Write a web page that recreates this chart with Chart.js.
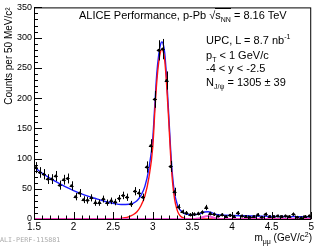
<!DOCTYPE html>
<html>
<head>
<meta charset="utf-8">
<script src="https://cdn.jsdelivr.net/npm/chart.js@4.4.1/dist/chart.umd.min.js"></script>
<style>
  html, body { margin: 0; padding: 0; background: #fff; }
  #wrap { position: relative; width: 316px; height: 246px; font-family: 'Liberation Sans', Arial, sans-serif; color: #000; }
  #wrap canvas { position: absolute; left: 0; top: 0; }
  .lbl { position: absolute; font-size: 11px; line-height: 12px; white-space: nowrap; }
  .lbl sub, .lbl sup { font-size: 7px; line-height: 0; }
  .ov { border-top: 1px solid #000; padding-top: 0; }
  #xtitle { font-size: 10px; right: 4px; top: 232px; }
  #tag { position: absolute; left: 0; top: 236px; font-family: 'DejaVu Sans Mono', monospace; font-size: 6.7px; color: #aaa; }
</style>
</head>
<body>
<div id="wrap">
  <canvas id="c" width="316" height="246"></canvas>
  <div class="lbl" style="left:79px;top:9px">ALICE Performance, p-Pb <span>&radic;<span class="ov">s<sub>NN</sub></span></span> = 8.16 TeV</div>
  <div class="lbl" style="left:206px;top:34px">UPC, L = 8.7 nb<sup>-1</sup></div>
  <div class="lbl" style="left:206px;top:49px">p<sub>T</sub> &lt; 1 GeV/c</div>
  <div class="lbl" style="left:206px;top:62px">-4 &lt; y &lt; -2.5</div>
  <div class="lbl" style="left:206px;top:76px">N<sub>J/&psi;</sub> = 1305 &plusmn; 39</div>
  <div class="lbl" id="xtitle">m<sub>&mu;&mu;</sub> (GeV/c<sup>2</sup>)</div>
  <div id="tag">ALI-PERF-115881</div>
</div>
<script>
// ── data (50 MeV bins) ────────────────────────────────────
const binCenters = [
  1.525, 1.575, 1.625, 1.675, 1.725, 1.775, 1.825, 1.875, 1.925, 1.975,
  2.025, 2.075, 2.125, 2.175, 2.225, 2.275, 2.325, 2.375, 2.425, 2.475,
  2.525, 2.575, 2.625, 2.675, 2.725, 2.775, 2.825, 2.875, 2.925, 2.975,
  3.025, 3.075, 3.125, 3.175, 3.225, 3.275, 3.325, 3.375, 3.425, 3.475,
  3.525, 3.575, 3.625, 3.675, 3.725, 3.775, 3.825, 3.875, 3.925, 3.975,
  4.025, 4.075, 4.125, 4.175, 4.225, 4.275, 4.325, 4.375, 4.425, 4.475,
  4.525, 4.575, 4.625, 4.675, 4.725, 4.775, 4.825, 4.875, 4.925, 4.975
];
const counts = [
  85, 77, 74, 66, 66, 71, 56, 65, 67, 55,
  37, 43, 32, 31, 35, 27, 27, 33, 27, 30,
  28, 34, 39, 36, 25, 46, 43, 36, 86, 121,
  198, 279, 281, 229, 87, 45, 20, 12, 10, 7,
  8, 9, 11, 19, 9, 8, 5, 7, 4, 6,
  4, 10, 5, 4, 3, 4, 7, 3, 8, 4,
  4, 5, 4, 5, 4, 8, 3, 2, 4, 5
];
const countErr = [
  9.2, 8.8, 8.6, 8.1, 8.1, 8.4, 7.5, 8.1, 8.2, 7.4,
  6.1, 6.6, 5.7, 5.6, 5.9, 5.2, 5.2, 5.7, 5.2, 5.5,
  5.3, 5.8, 6.2, 6.0, 5.0, 6.8, 6.6, 6.0, 9.3, 11.0,
  14.1, 16.7, 16.8, 15.1, 9.3, 6.7, 4.5, 3.5, 3.2, 2.6,
  2.8, 3.0, 3.3, 4.4, 3.0, 2.8, 2.2, 2.6, 2.0, 2.4,
  2.0, 3.2, 2.2, 2.0, 1.7, 2.0, 2.6, 1.7, 2.8, 2.0,
  2.0, 2.2, 2.0, 2.2, 2.0, 2.8, 1.7, 1.4, 2.0, 2.2
];

// total fit (blue)
const totalMass = [1.5, 1.6, 1.7, 1.8, 1.9, 2.0, 2.1, 2.2, 2.3, 2.4, 2.5, 2.6, 2.7, 2.75, 2.8, 2.85, 2.9, 2.95,
  3.0, 3.025, 3.05, 3.075, 3.1, 3.115, 3.13, 3.15, 3.175, 3.2, 3.225, 3.25, 3.275, 3.3, 3.325, 3.35,
  3.4, 3.45, 3.5, 3.55, 3.6, 3.65, 3.7, 3.75, 3.8, 3.85, 3.9, 4.0, 4.25, 4.5, 4.75, 5.0];
const totalFit = [86, 76, 67.5, 60, 53, 47, 41.5, 37, 33, 29, 26, 24, 24.5, 26, 30, 39, 54, 83,
  134, 188, 240, 272, 290, 293, 290, 275, 232, 175, 115, 70, 42, 28, 19, 14,
  9, 7.5, 7, 7.5, 9, 11.5, 12, 10, 7.5, 6.5, 6.2, 5.8, 5, 4.4, 4, 3.6];

// J/psi signal (red)
const jpsiMass = [1.5, 2.4, 2.5, 2.55, 2.6, 2.65, 2.7, 2.75, 2.8, 2.85, 2.9, 2.95,
  3.0, 3.025, 3.05, 3.075, 3.1, 3.115, 3.13, 3.15, 3.175, 3.2, 3.225, 3.25, 3.275, 3.3, 3.325, 3.35,
  3.4, 3.45, 3.5, 5.0];
const jpsiFit = [0, 0, 0.2, 0.5, 1, 2, 4, 7, 12, 22, 38, 68,
  120, 177, 227, 260, 278, 281, 278, 263, 221, 165, 105, 60, 33, 18, 9, 4.5,
  1, 0.2, 0, 0];

// psi(2S) (magenta)
const psi2sMass = [1.5, 3.5, 3.55, 3.6, 3.65, 3.69, 3.73, 3.78, 3.83, 3.88, 5.0];
const psi2sFit = [0, 0, 0.3, 1.5, 3.8, 5, 3.8, 1.5, 0.3, 0, 0];

const xTicks = [1.5, 2, 2.5, 3, 3.5, 4, 4.5, 5];
const yTicks = [0, 50, 100, 150, 200, 250, 300, 350];

const pairs = (xs, ys) => xs.map((v, i) => ({ x: v, y: ys[i] }));

// error bars on the data points
const errorBars = {
  id: 'errorBars',
  afterDatasetsDraw(chart) {
    const { ctx, scales: { x, y } } = chart;
    ctx.save();
    ctx.strokeStyle = '#000';
    ctx.lineWidth = 1;
    ctx.beginPath();
    binCenters.forEach((m, i) => {
      const px = Math.round(x.getPixelForValue(m)) + 0.5;
      const py = Math.round(y.getPixelForValue(counts[i])) + 0.5;
      ctx.moveTo(px, y.getPixelForValue(counts[i] + countErr[i]));
      ctx.lineTo(px, y.getPixelForValue(Math.max(0, counts[i] - countErr[i])));
      ctx.moveTo(x.getPixelForValue(m - 0.025), py);
      ctx.lineTo(x.getPixelForValue(m + 0.025), py);
    });
    ctx.stroke();
    ctx.restore();
  }
};

// ROOT-like frame with inside ticks
const rootFrame = {
  id: 'rootFrame',
  afterDraw(chart) {
    const { ctx, chartArea: a, scales: { x, y } } = chart;
    ctx.save();
    ctx.strokeStyle = '#000';
    ctx.lineWidth = 1;
    ctx.strokeRect(a.left + 0.5, a.top + 0.5, a.right - a.left - 1, a.bottom - a.top);
    ctx.beginPath();
    for (let v = 0; v <= 350; v += 10) {
      const py = Math.round(y.getPixelForValue(v)) + 0.5;
      ctx.moveTo(a.left, py);
      ctx.lineTo(a.left + (v % 50 === 0 ? 8 : 4), py);
    }
    for (let k = 15; k <= 50; k++) {
      const px = Math.round(x.getPixelForValue(k / 10)) + 0.5;
      ctx.moveTo(px, a.bottom);
      ctx.lineTo(px, a.bottom - (k % 5 === 0 ? 7 : 3.5));
    }
    ctx.stroke();
    ctx.restore();
  }
};

const tickFont = { family: "'Liberation Sans', Arial, sans-serif", size: 9 };

new Chart(document.getElementById('c'), {
  type: 'line',
  data: {
    datasets: [
      {
        type: 'scatter', data: pairs(binCenters, counts), order: 0,
        pointRadius: 1.5, pointBackgroundColor: '#000', pointBorderWidth: 0, showLine: false
      },
      {
        data: pairs(psi2sMass, psi2sFit), order: 1, borderColor: 'rgba(240,60,210,0.85)',
        borderWidth: 2.2, pointRadius: 0, cubicInterpolationMode: 'monotone', fill: false
      },
      {
        data: pairs(jpsiMass, jpsiFit), order: 2, borderColor: '#ff1010',
        borderWidth: 1.4, pointRadius: 0, cubicInterpolationMode: 'monotone', fill: false
      },
      {
        data: pairs(totalMass, totalFit), order: 3, borderColor: '#1a1aff',
        borderWidth: 1.4, pointRadius: 0, cubicInterpolationMode: 'monotone', fill: false
      }
    ]
  },
  options: {
    responsive: false,
    animation: false,
    layout: { padding: { top: 5, right: 4, left: 0, bottom: 0 } },
    plugins: { legend: { display: false }, tooltip: { enabled: false } },
    scales: {
      x: {
        type: 'linear', min: 1.5, max: 5,
        grid: { display: false, drawTicks: false }, border: { display: false },
        afterBuildTicks: s => { s.ticks = xTicks.map(v => ({ value: v })); },
        afterFit: s => { s.height = 27; },
        ticks: {
          color: '#000', font: { ...tickFont, size: 10 }, padding: 2, maxRotation: 0, autoSkip: false,
          callback: v => String(v)
        }
      },
      y: {
        min: 0, max: 350,
        grid: { display: false, drawTicks: false }, border: { display: false },
        afterBuildTicks: s => { s.ticks = yTicks.map(v => ({ value: v })); },
        afterFit: s => { s.width = 34; },
        ticks: { color: '#000', font: tickFont, padding: 2 },
        title: {
          display: true, text: 'Counts per 50 MeV/c²', align: 'end', color: '#000',
          font: { family: "'Liberation Sans', Arial, sans-serif", size: 10 },
          padding: { top: 3, bottom: 0 }
        }
      }
    }
  },
  plugins: [errorBars, rootFrame]
});
</script>
</body>
</html>
